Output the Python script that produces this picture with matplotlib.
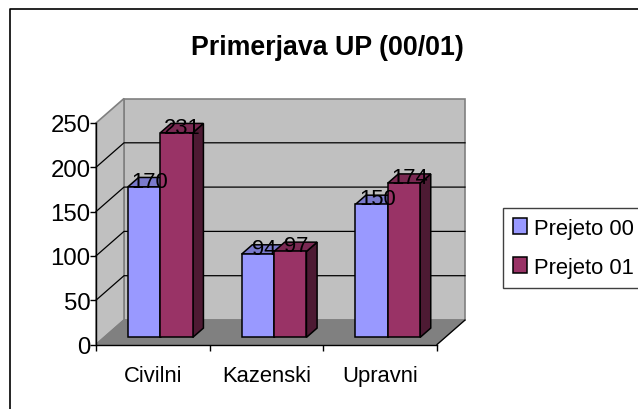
import matplotlib
matplotlib.use("Agg")
import matplotlib.pyplot as plt
from matplotlib.lines import Line2D
from matplotlib.patches import Patch, Polygon

plt.rcParams['font.family'] = ['Liberation Sans', 'DejaVu Sans']

# Data
categories = ["Civilni", "Kazenski", "Upravni"]
prejeto_00 = [170, 94, 150]
prejeto_01 = [231, 97, 174]
series_names = ["Prejeto 00", "Prejeto 01"]
y_ticks = [0, 50, 100, 150, 200, 250]

# Colours: front, top, side of each series
colors = [("#9999FF", "#7A7ACC", "#4D4D80"), ("#993366", "#7A2952", "#4D1A33")]

# Fake 3D: depth offset of the back wall, in data units
DX = 28 / 113.67
DY = 24.5 * 250 / 221.5
BAR_D0 = 0.29  # depth of bar front
BAR_D1 = 0.67  # depth of bar back
BAR_W = 0.285
BAR_GAP = 0.21
TEXT_SIZE = 15.8


def proj(x, y, d):
    """Move a point (x, y) back to depth d (0 front, 1 back wall)"""
    return (x + d * DX, y + d * DY)


def draw_walls(ax, n):
    top = y_ticks[-1]
    floor = [proj(0, 0, 0), proj(n, 0, 0), proj(n, 0, 1), proj(0, 0, 1)]
    back = [proj(0, 0, 1), proj(n, 0, 1), proj(n, top, 1), proj(0, top, 1)]
    side = [proj(0, 0, 0), proj(0, 0, 1), proj(0, top, 1), proj(0, top, 0)]
    ax.add_patch(Polygon(back, fc="#C0C0C0", ec="#808080", lw=1.2, zorder=1, clip_on=False))
    ax.add_patch(Polygon(side, fc="#C0C0C0", ec="#808080", lw=1.2, zorder=1, clip_on=False))
    ax.add_patch(Polygon(floor, fc="#808080", ec="#808080", lw=1, zorder=1, clip_on=False))
    for t in y_ticks[1:-1]:
        a, b, c = proj(0, t, 0), proj(0, t, 1), proj(n, t, 1)
        ax.plot([a[0], b[0], c[0]], [a[1], b[1], c[1]], color="black", lw=0.9,
                zorder=2, clip_on=False)
    a, b = proj(n, 0, 0), proj(n, 0, 1)
    ax.plot([a[0], b[0]], [a[1], b[1]], color="black", lw=0.9, zorder=2, clip_on=False)


def draw_bar(ax, x, val, cols, z):
    front = [proj(x, 0, BAR_D0), proj(x + BAR_W, 0, BAR_D0),
             proj(x + BAR_W, val, BAR_D0), proj(x, val, BAR_D0)]
    top = [proj(x, val, BAR_D0), proj(x + BAR_W, val, BAR_D0),
           proj(x + BAR_W, val, BAR_D1), proj(x, val, BAR_D1)]
    side = [proj(x + BAR_W, 0, BAR_D0), proj(x + BAR_W, 0, BAR_D1),
            proj(x + BAR_W, val, BAR_D1), proj(x + BAR_W, val, BAR_D0)]
    for pts, c in zip((side, top, front), (cols[2], cols[1], cols[0])):
        ax.add_patch(Polygon(pts, fc=c, ec="black", lw=1.1, zorder=z, clip_on=False))


fig = plt.figure(figsize=(6.38, 4.10), dpi=100)
ax = fig.add_axes([96 / 638, 64.5 / 410, 341 / 638, 221.5 / 410])
ax.set_xlim(0, len(categories))
ax.set_ylim(0, y_ticks[-1])

draw_walls(ax, len(categories))

# bars
for i, name in enumerate(categories):
    for j, vals in enumerate((prejeto_00, prejeto_01)):
        x = i + BAR_GAP + j * BAR_W
        draw_bar(ax, x, vals[i], colors[j], 3 + i + j * 0.1)
for i, name in enumerate(categories):
    for j, vals in enumerate((prejeto_00, prejeto_01)):
        x = i + BAR_GAP + j * BAR_W
        px = proj(x + BAR_W / 2, vals[i], 0.5)[0]
        py = proj(x, vals[i], BAR_D0)[1]
        ax.text(px, py, str(vals[i]), ha="center", va="baseline", fontsize=TEXT_SIZE,
                color="black", zorder=10)

# axes
for s in ("top", "right"):
    ax.spines[s].set_visible(False)
for s in ("left", "bottom"):
    ax.spines[s].set_linewidth(1)
    ax.spines[s].set_zorder(2.5)
ax.patch.set_visible(False)
ax.set_yticks(y_ticks)
ax.set_xticks(range(len(categories) + 1))
ax.set_xticklabels([])
ax.set_xticks([i + 0.5 for i in range(len(categories))], minor=True)
ax.set_xticklabels(categories, minor=True)
ax.tick_params(axis="x", which="minor", length=0, pad=15, labelsize=TEXT_SIZE)
ax.tick_params(axis="x", which="major", length=4, width=1, direction="out")
ax.tick_params(axis="y", length=4, width=1, direction="out", pad=0, labelsize=17.3)

fig.text(327.5 / 638, 1 - 48 / 410, "Primerjava UP (00/01)", ha="center", va="center",
         fontsize=19.3, fontweight="bold")

# outer chart border, only left and top are in the crop
fig.add_artist(Line2D([9.5 / 638, 9.5 / 638, 1], [0, 1 - 9.5 / 410, 1 - 9.5 / 410],
                      color="black", lw=1.2))

handles = [Patch(fc=colors[k][0], ec="black", lw=1.1) for k in range(2)]
leg = fig.legend(handles, series_names, loc="upper left",
                 bbox_to_anchor=(503 / 638, 1 - 209 / 410), fontsize=TEXT_SIZE,
                 fancybox=False, framealpha=1, edgecolor="#404040", borderaxespad=0,
                 borderpad=0.45, handlelength=0.64, handleheight=0.77,
                 handletextpad=0.32, labelspacing=0.82)
leg.get_frame().set_linewidth(1)

fig.savefig("out.png", dpi=100)
